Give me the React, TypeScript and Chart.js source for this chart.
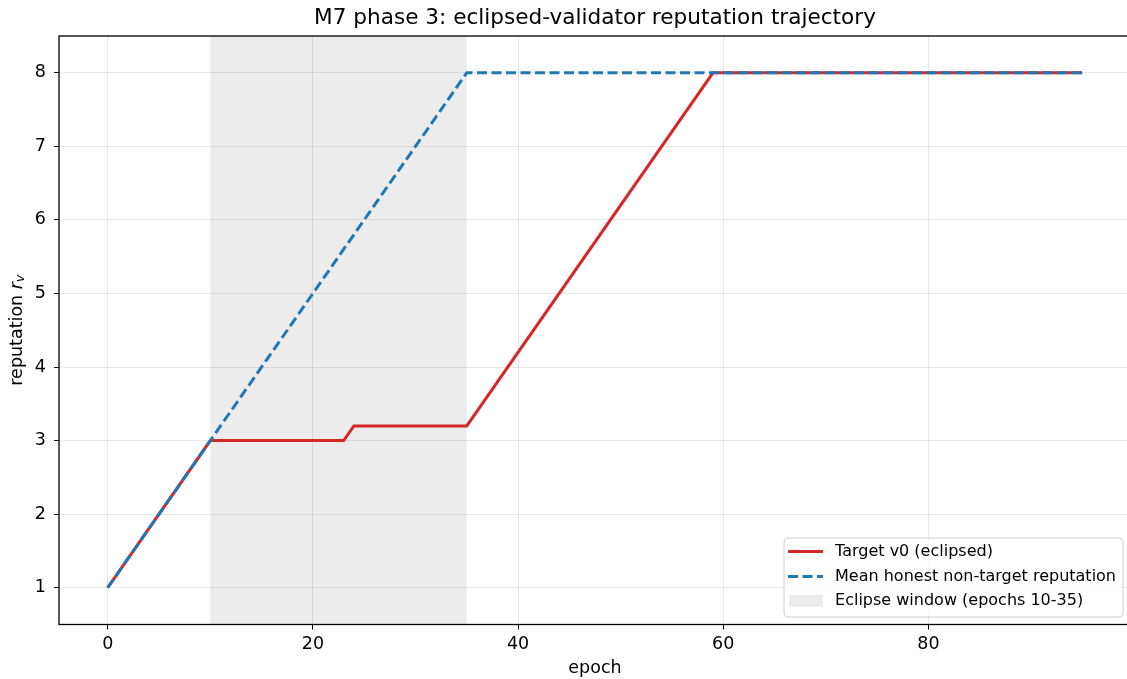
import { useEffect, useRef } from "react";
import { Chart, registerables } from "chart.js";

Chart.register(...registerables);

const targetEpochs = [0, 10, 23, 24, 35, 59, 95];
const targetRep = [1, 3, 3, 3.2, 3.2, 8, 8];
const honestEpochs = [0, 35, 95];
const honestRep = [1, 8, 8];
const eclipseWindow = [10, 35];
const xTicks = [0, 20, 40, 60, 80];
const yTicks = [1, 2, 3, 4, 5, 6, 7, 8];
const titleText = "M7 phase 3: eclipsed-validator reputation trajectory";
const xLabel = "epoch";
const legendLabels = [
  "Target v0 (eclipsed)",
  "Mean honest non-target reputation",
  "Eclipse window (epochs 10-35)",
];

const FONT = "'DejaVu Sans', sans-serif";
const RED = "#d62728";
const BLUE = "#1f77b4";
const SHADE = "rgba(128,128,128,0.15)";
const TICK_SIZE = 17.5;
const LABEL_SIZE = 17.5;
const LEGEND_SIZE = 16;
const TITLE_SIZE = 21.6;

const decor = {
  id: "decor",
  beforeDatasetsDraw(chart: any) {
    const { ctx, chartArea: a, scales } = chart;
    const x0 = scales.x.getPixelForValue(eclipseWindow[0]);
    const x1 = scales.x.getPixelForValue(eclipseWindow[1]);
    ctx.save();
    ctx.fillStyle = SHADE;
    ctx.fillRect(x0, a.top, x1 - x0, a.bottom - a.top);
    ctx.restore();
  },
  afterDraw(chart: any) {
    const { ctx, chartArea: a } = chart;
    ctx.save();
    // frame
    ctx.strokeStyle = "#000";
    ctx.lineWidth = 1.3;
    ctx.strokeRect(a.left, a.top, a.right - a.left, a.bottom - a.top);

    // title
    ctx.fillStyle = "#000";
    ctx.textAlign = "center";
    ctx.textBaseline = "middle";
    ctx.font = `${TITLE_SIZE}px ${FONT}`;
    ctx.fillText(titleText, (a.left + a.right) / 2, 18.5);

    // x label
    ctx.font = `${LABEL_SIZE}px ${FONT}`;
    ctx.fillText(xLabel, (a.left + a.right) / 2, 668);

    // y label with italic r and subscript v
    ctx.font = `${LABEL_SIZE}px ${FONT}`;
    const p1 = "reputation ";
    const w1 = ctx.measureText(p1).width;
    ctx.font = `italic ${LABEL_SIZE}px ${FONT}`;
    const w2 = ctx.measureText("r").width;
    const subSize = LABEL_SIZE * 0.7;
    ctx.font = `italic ${subSize}px ${FONT}`;
    const w3 = ctx.measureText("v").width;
    const total = w1 + w2 + w3;
    ctx.translate(17, (a.top + a.bottom) / 2);
    ctx.rotate(-Math.PI / 2);
    ctx.textAlign = "left";
    ctx.textBaseline = "middle";
    let sx = -total / 2;
    ctx.font = `${LABEL_SIZE}px ${FONT}`;
    ctx.fillText(p1, sx, 0);
    sx += w1;
    ctx.font = `italic ${LABEL_SIZE}px ${FONT}`;
    ctx.fillText("r", sx, 0);
    sx += w2;
    ctx.font = `italic ${subSize}px ${FONT}`;
    ctx.fillText("v", sx, 4);
    ctx.setTransform(1, 0, 0, 1, 0, 0);

    // legend
    ctx.font = `${LEGEND_SIZE}px ${FONT}`;
    const maxW = Math.max(...legendLabels.map((t) => ctx.measureText(t).width));
    const boxW = 4 + 35 + 12 + maxW + 7;
    const boxH = 79;
    const bx = a.right - 8 - boxW;
    const by = a.bottom - 7.5 - boxH;
    ctx.beginPath();
    (ctx as any).roundRect(bx, by, boxW, boxH, 4);
    ctx.fillStyle = "rgba(255,255,255,0.8)";
    ctx.fill();
    ctx.strokeStyle = "#d0d0d0";
    ctx.lineWidth = 1;
    ctx.stroke();

    const hx = bx + 4;
    const rows = [by + 13.5, by + 38.5, by + 63];
    ctx.lineWidth = 3;
    ctx.strokeStyle = RED;
    ctx.beginPath();
    ctx.moveTo(hx, rows[0]);
    ctx.lineTo(hx + 35, rows[0]);
    ctx.stroke();
    ctx.strokeStyle = BLUE;
    ctx.setLineDash([10, 4.5]);
    ctx.beginPath();
    ctx.moveTo(hx, rows[1]);
    ctx.lineTo(hx + 35, rows[1]);
    ctx.stroke();
    ctx.setLineDash([]);
    ctx.fillStyle = SHADE;
    ctx.fillRect(hx + 1, rows[2] - 6, 34, 12);

    ctx.fillStyle = "#000";
    ctx.textAlign = "left";
    ctx.textBaseline = "middle";
    legendLabels.forEach((t, i) => ctx.fillText(t, hx + 47, rows[i]));
    ctx.restore();
  },
};

export default function App() {
  const ref = useRef<HTMLCanvasElement | null>(null);
  useEffect(() => {
    document.body.style.margin = "0";
    if (!ref.current) return;
    const chart = new Chart(ref.current, {
      type: "line",
      data: {
        datasets: [
          {
            label: legendLabels[0],
            data: targetEpochs.map((x, i) => ({ x, y: targetRep[i] })),
            borderColor: RED,
            borderWidth: 3,
            pointRadius: 0,
            tension: 0,
            fill: false,
            order: 1,
          },
          {
            label: legendLabels[1],
            data: honestEpochs.map((x, i) => ({ x, y: honestRep[i] })),
            borderColor: BLUE,
            borderWidth: 3,
            borderDash: [10, 4.5],
            pointRadius: 0,
            tension: 0,
            fill: false,
            order: 0,
          },
        ],
      },
      options: {
        animation: false,
        responsive: true,
        maintainAspectRatio: false,
        layout: { padding: { top: 36, right: 9, left: 0, bottom: 0 } },
        plugins: { legend: { display: false }, tooltip: { enabled: false }, title: { display: false } },
        scales: {
          x: {
            type: "linear",
            min: -4.75,
            max: 99.75,
            afterBuildTicks: (s: any) => {
              s.ticks = xTicks.map((v) => ({ value: v }));
            },
            afterFit: (s: any) => {
              s.height = 54.5;
            },
            ticks: { font: { family: FONT, size: TICK_SIZE }, color: "#000", padding: 4, maxRotation: 0 },
            grid: { color: "rgba(176,176,176,0.3)", tickColor: "#000", tickLength: 5, lineWidth: 1 },
            border: { display: false },
          },
          y: {
            type: "linear",
            min: 0.5,
            max: 8.5,
            afterBuildTicks: (s: any) => {
              s.ticks = yTicks.map((v) => ({ value: v }));
            },
            afterFit: (s: any) => {
              s.width = 59;
            },
            ticks: { font: { family: FONT, size: TICK_SIZE }, color: "#000", padding: 8 },
            grid: { color: "rgba(176,176,176,0.3)", tickColor: "#000", tickLength: 5, lineWidth: 1 },
            border: { display: false },
          },
        },
      },
      plugins: [decor],
    });
    return () => chart.destroy();
  }, []);
  return (
    <div style={{ position: "fixed", left: 0, top: 0, width: 1127, height: 679, overflow: "hidden" }}>
      <div style={{ position: "relative", width: 1140, height: 679 }}>
        <canvas ref={ref} />
      </div>
    </div>
  );
}
